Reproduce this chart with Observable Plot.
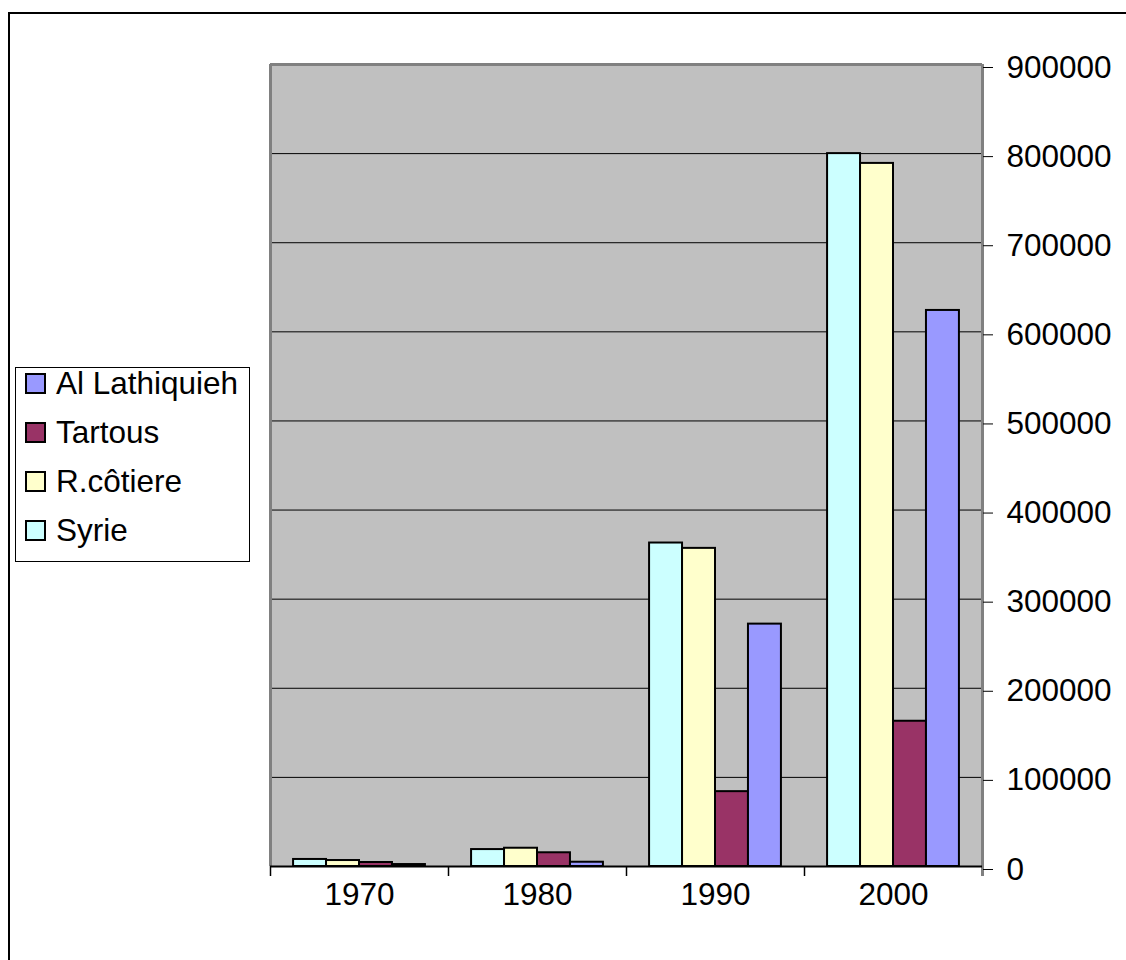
<!DOCTYPE html>
<html>
<head>
<meta charset="utf-8">
<script src="https://cdn.jsdelivr.net/npm/d3@7"></script>
<script src="https://cdn.jsdelivr.net/npm/@observablehq/plot@0.6"></script>
<style>
  html, body { margin: 0; padding: 0; background: #fff; }
  body { width: 1126px; height: 960px; position: relative; overflow: hidden; font-family: "Liberation Sans", Arial, sans-serif; }
  #frame { position: absolute; left: 8px; top: 12px; width: 1200px; height: 1000px; border-left: 2px solid #000; border-top: 2px solid #000; box-sizing: border-box; }
  #chart { position: absolute; left: 0; top: 0; }
  #legend { position: absolute; left: 15px; top: 367px; width: 235px; height: 195px; border: 1px solid #000; background: #fff; box-sizing: border-box; }
  .row { position: absolute; left: 9px; height: 36px; display: flex; align-items: center; font-size: 31.5px; color: #000; white-space: nowrap; }
  .sw { width: 17px; height: 17px; border: 2px solid #000; margin-right: 10px; box-sizing: content-box; }
</style>
</head>
<body>
<div id="frame"></div>
<div id="chart"></div>
<div id="legend"></div>
<script>
const years = ["1970", "1980", "1990", "2000"];
const series = ["Syrie", "R.côtiere", "Tartous", "Al Lathiquieh"];
const colors = ["#CCFFFF", "#FFFFCC", "#993366", "#9999FF"];
const syrie = [7900, 19000, 363000, 800000];
const rcotiere = [6700, 20500, 357000, 789000];
const tartous = [4500, 15400, 84000, 163000];
const lathiquieh = [2200, 4800, 272000, 624000];
const yTicks = [0, 100000, 200000, 300000, 400000, 500000, 600000, 700000, 800000, 900000];
const legendOrder = ["Al Lathiquieh", "Tartous", "R.côtiere", "Syrie"];

const valuesBySeries = [syrie, rcotiere, tartous, lathiquieh];
const data = [];
years.forEach((yr, i) => series.forEach((s, j) => data.push({year: yr, series: s, value: valuesBySeries[j][i]})));

const W = 1126, H = 960, mL = 270, mR = 144, mT = 64, mB = 94;
const padOuter = 0.7;
const facetW = (W - mL - mR) / years.length;
const step = facetW / (series.length + 2 * padOuter);
const edgeOff = padOuter * step + step / 2;
const plotH = H - mT - mB;
const gray = "#808080";

const plot = Plot.plot({
  width: W, height: H,
  marginLeft: mL, marginRight: mR, marginTop: mT, marginBottom: mB,
  style: {fontFamily: "'Liberation Sans', Arial, sans-serif", fontSize: "31.5px", color: "#000", background: "transparent"},
  fx: {domain: years, padding: 0, round: false, label: null},
  x: {domain: series, paddingInner: 0, paddingOuter: padOuter, round: false, axis: null},
  y: {domain: [0, 900000], label: null, axis: null},
  color: {domain: series, range: colors},
  marks: [
    Plot.frame({fill: "#C0C0C0", stroke: null, shapeRendering: "crispEdges"}),
    Plot.ruleY(yTicks.slice(1), {stroke: "#000", strokeWidth: 1}),
    Plot.ruleY([900000], {stroke: gray, strokeWidth: 3}),
    Plot.ruleX([years[0]], {fx: d => d, x: () => series[0], dx: -edgeOff, stroke: gray, strokeWidth: 3}),
    Plot.ruleX(years, {fx: d => d, x: () => series[0], dx: -edgeOff, insetTop: plotH, insetBottom: -10, stroke: "#000", strokeWidth: 1.5}),
    Plot.ruleX([years[years.length - 1]], {fx: d => d, x: () => series[series.length - 1], dx: edgeOff, insetBottom: -10, stroke: gray, strokeWidth: 3}),
    Plot.barY(data, {fx: "year", x: "series", y: "value", fill: "series", stroke: "#000", strokeWidth: 2, inset: 0}),
    Plot.ruleY([0], {stroke: "#000", strokeWidth: 2}),
    Plot.axisY(yTicks, {anchor: "right", tickSize: 10, tickPadding: 14, dy: 3, tickFormat: d => String(d), fontSize: 31.5, stroke: "#000", strokeWidth: 1, label: null}),
    Plot.axisFx({anchor: "bottom", tickSize: 0, tickPadding: 16, fontSize: 31.5, label: null})
  ]
});
document.getElementById("chart").appendChild(plot);

const legend = document.getElementById("legend");
legendOrder.forEach((name, i) => {
  const row = document.createElement("div");
  row.className = "row";
  row.style.top = (-3 + i * 49) + "px";
  const sw = document.createElement("div");
  sw.className = "sw";
  sw.style.background = colors[series.indexOf(name)];
  const tx = document.createElement("span");
  tx.textContent = name;
  row.appendChild(sw);
  row.appendChild(tx);
  legend.appendChild(row);
});
</script>
</body>
</html>
